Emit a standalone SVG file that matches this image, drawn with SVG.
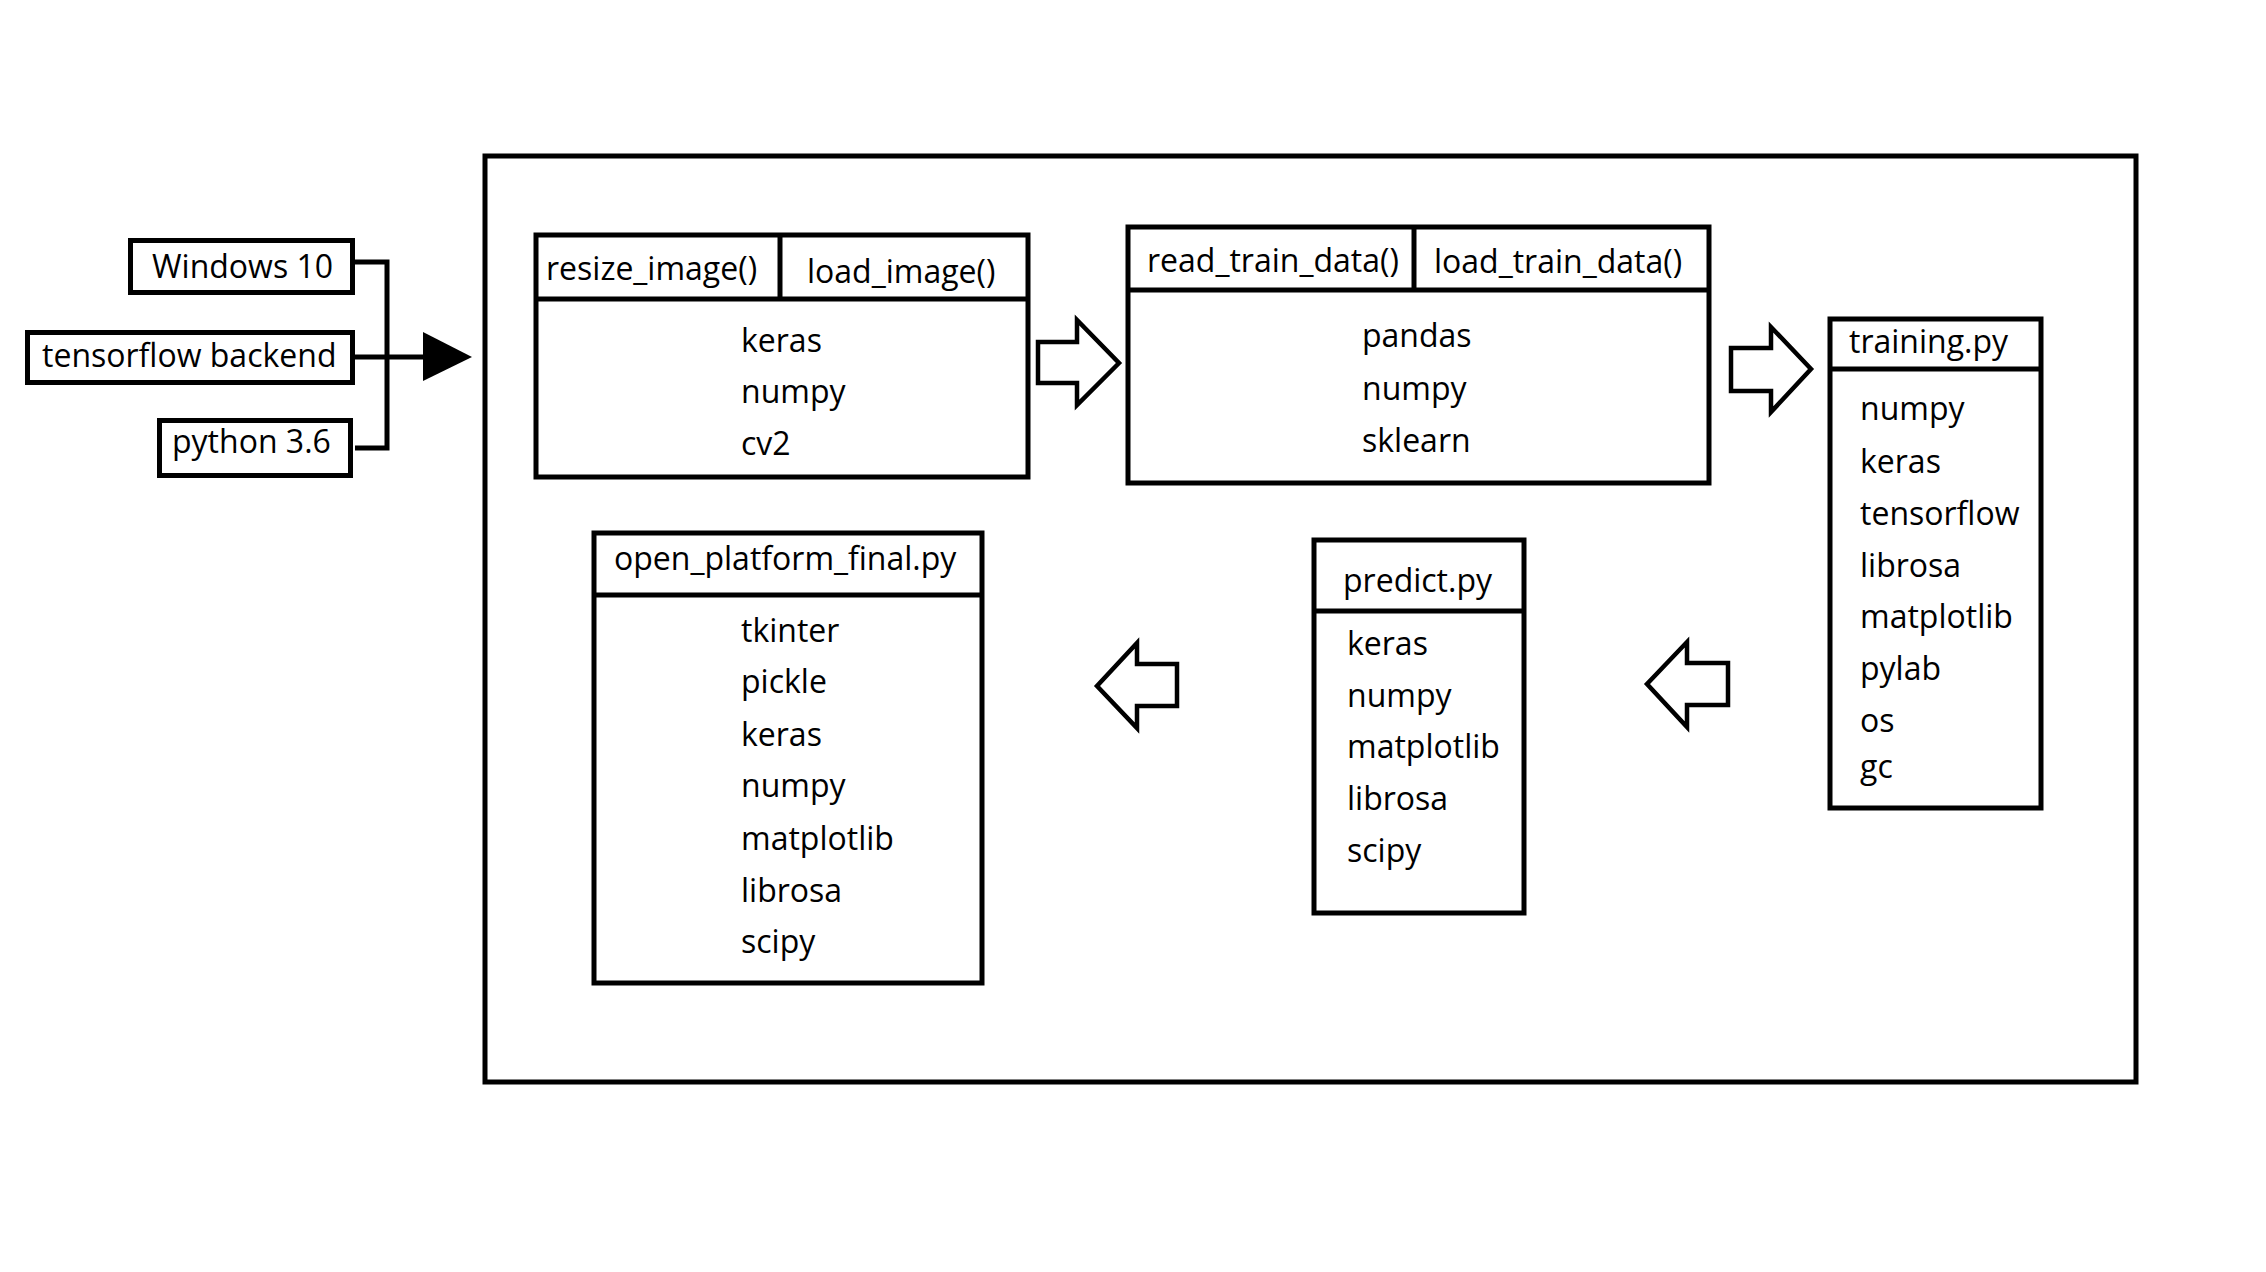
<svg xmlns="http://www.w3.org/2000/svg" width="2266" height="1272" viewBox="0 0 2266 1272">
<style>
.box{fill:#fff;stroke:#000;stroke-width:5}
.ln{stroke:#000;stroke-width:5;fill:none}
.t{font-family:"Open Sans","Noto Sans",sans-serif;font-size:32px;fill:#000}
.blk{fill:#fff;stroke:#000;stroke-width:4.5;stroke-linejoin:miter}
</style>
<rect x="0" y="0" width="2266" height="1272" fill="#fff"/>
<g id="frame"><rect class="box" x="485" y="156" width="1651" height="926"/></g>
<g id="win10"><rect class="box" x="130.5" y="240.5" width="222" height="52"/><text class="t" x="152" y="278">Windows 10</text></g>
<g id="tfbackend"><rect class="box" x="27.5" y="332.5" width="325" height="50"/><text class="t" x="42" y="367">tensorflow backend</text></g>
<g id="py36"><rect class="box" x="159.5" y="420.5" width="191" height="55"/><text class="t" x="172" y="453">python 3.6</text></g>
<g id="node-image">
<rect class="box" x="536" y="235" width="492" height="242"/>
<line class="ln" x1="536" y1="299" x2="1028" y2="299"/>
<line class="ln" x1="780" y1="235" x2="780" y2="299"/>
<text class="t" x="546" y="280">resize_image()</text>
<text class="t" x="807" y="283">load_image()</text>
<text class="t" x="741" y="352">keras</text>
<text class="t" x="741" y="403">numpy</text>
<text class="t" x="741" y="455">cv2</text>
</g>
<g id="node-data">
<rect class="box" x="1128" y="227" width="581" height="256"/>
<line class="ln" x1="1128" y1="290" x2="1709" y2="290"/>
<line class="ln" x1="1414" y1="227" x2="1414" y2="290"/>
<text class="t" x="1147" y="272">read_train_data()</text>
<text class="t" x="1434" y="273">load_train_data()</text>
<text class="t" x="1362" y="347">pandas</text>
<text class="t" x="1362" y="400">numpy</text>
<text class="t" x="1362" y="452">sklearn</text>
</g>
<g id="node-training">
<rect class="box" x="1830" y="319" width="211" height="489"/>
<line class="ln" x1="1830" y1="369" x2="2041" y2="369"/>
<text class="t" x="1849" y="353">training.py</text>
<text class="t" x="1860" y="420">numpy</text>
<text class="t" x="1860" y="473">keras</text>
<text class="t" x="1860" y="525">tensorflow</text>
<text class="t" x="1860" y="577">librosa</text>
<text class="t" x="1860" y="628">matplotlib</text>
<text class="t" x="1860" y="680">pylab</text>
<text class="t" x="1860" y="732">os</text>
<text class="t" x="1860" y="778">gc</text>
</g>
<g id="node-predict">
<rect class="box" x="1314" y="540" width="210" height="373"/>
<line class="ln" x1="1314" y1="611" x2="1524" y2="611"/>
<text class="t" x="1343" y="592">predict.py</text>
<text class="t" x="1347" y="655">keras</text>
<text class="t" x="1347" y="707">numpy</text>
<text class="t" x="1347" y="758">matplotlib</text>
<text class="t" x="1347" y="810">librosa</text>
<text class="t" x="1347" y="862">scipy</text>
</g>
<g id="node-open">
<rect class="box" x="594" y="533" width="388" height="450"/>
<line class="ln" x1="594" y1="595" x2="982" y2="595"/>
<text class="t" x="614" y="570">open_platform_final.py</text>
<text class="t" x="741" y="642">tkinter</text>
<text class="t" x="741" y="693">pickle</text>
<text class="t" x="741" y="746">keras</text>
<text class="t" x="741" y="797">numpy</text>
<text class="t" x="741" y="850">matplotlib</text>
<text class="t" x="741" y="902">librosa</text>
<text class="t" x="741" y="953">scipy</text>
</g>
<g id="connectors">
<polyline class="ln" points="355,262 387,262 387,448 355,448"/>
<line class="ln" x1="355" y1="357" x2="425" y2="357"/>
<polygon points="423,332 472,357 423,381" fill="#000"/>
<path class="blk" d="M1038,342 H1077 V320 L1119,363 L1077,405 V383 H1038 Z"/>
<path class="blk" d="M1731,348 H1771 V327 L1811,369 L1771,412 V391 H1731 Z"/>
<path class="blk" d="M1728,663 H1687 V642 L1647,684 L1687,727 V705 H1728 Z"/>
<path class="blk" d="M1177,664 H1137 V643 L1097,686 L1137,728 V706 H1177 Z"/>
</g>
</svg>
